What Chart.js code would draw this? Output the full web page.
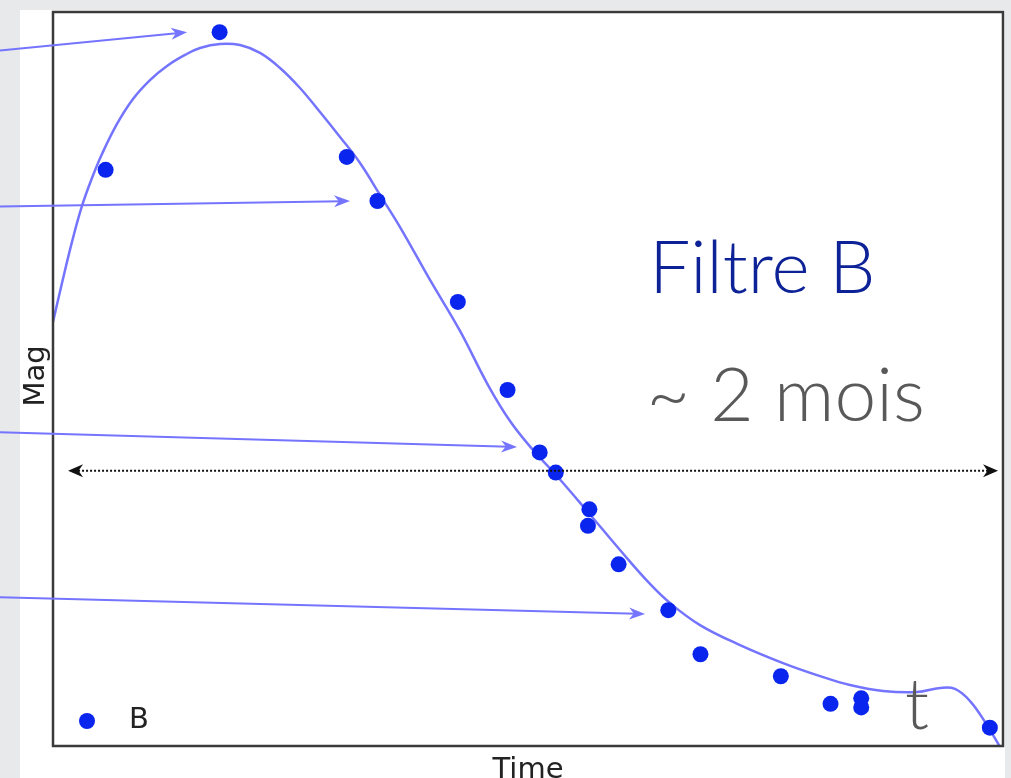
<!DOCTYPE html>
<html>
<head>
<meta charset="utf-8">
<script src="https://cdn.jsdelivr.net/npm/chart.js@4"></script>
<style>
  html, body { margin: 0; padding: 0; background: #e8e9eb; }
  canvas { display: block; }
</style>
</head>
<body>
<canvas id="lightCurve" width="1011" height="778"></canvas>
<script>
// observed B-band points (time in days, magnitude)
const timeDays = [3.6, 11.4, 20.1, 22.2, 27.7, 31.1, 33.3, 34.4, 36.7, 36.6, 38.7, 42.1, 44.3, 49.8, 53.2, 55.3, 55.3, 64.1];
const magB = [14.86, 14.11, 14.79, 15.03, 15.58, 16.06, 16.40, 16.51, 16.71, 16.80, 17.01, 17.26, 17.50, 17.62, 17.77, 17.74, 17.79, 17.90];

// fitted curve
const fitTime = [0, 0.616, 1.300, 1.984, 2.668, 3.352, 4.379, 5.474, 6.637, 7.800, 9.032, 10.058, 11.427, 12.795, 14.164, 15.532, 16.900, 18.269, 19.637, 21.006, 22.374, 23.743, 25.795, 27.848, 29.764, 31.269, 32.843, 34.417, 36.538, 38.796, 40.849, 42.217, 44.270, 47.007, 49.949, 52.480, 54.533, 56.791, 59.117, 60.691, 61.717, 62.744, 63.770, 64.795];
const fitMag = [15.689, 15.477, 15.253, 15.057, 14.905, 14.774, 14.610, 14.474, 14.371, 14.294, 14.234, 14.196, 14.174, 14.180, 14.223, 14.305, 14.414, 14.545, 14.681, 14.823, 14.997, 15.172, 15.460, 15.738, 16.033, 16.229, 16.387, 16.523, 16.719, 16.932, 17.117, 17.221, 17.341, 17.450, 17.548, 17.619, 17.668, 17.700, 17.706, 17.684, 17.689, 17.755, 17.869, 18.005];

// annotation arrows pointing at the data (start and tip, in data units)
const arrowStart = [[-3.63, 14.21], [-3.63, 15.06], [-3.63, 16.29], [-3.63, 17.19]];
const arrowTip = [[9.17, 14.11], [20.32, 15.03], [31.75, 16.37], [40.51, 17.28]];

// ~2 month span
const spanFrom = 1.03;
const spanTo = 64.66;
const spanMag = 16.50;

const seriesLabel = 'B';
const axisX = 'Time';
const axisY = 'Mag';
const noteFilter = 'Filtre B';
const noteSpan = '~ 2 mois';
const noteT = 't';

const pointColor = '#0a26ee';
const curveColor = '#7474ff';

function arrowHead(ctx, x, y, angle, len, half) {
    ctx.save();
    ctx.translate(x, y);
    ctx.rotate(angle);
    ctx.beginPath();
    ctx.moveTo(0, 0);
    ctx.lineTo(-len, -half);
    ctx.lineTo(-len * 0.7, 0);
    ctx.lineTo(-len, half);
    ctx.closePath();
    ctx.fill();
    ctx.restore();
}

const decorPlugin = {
    id: 'decor',
    beforeDraw(chart) {
        const ctx = chart.ctx;
        ctx.save();
        ctx.fillStyle = '#e8e9eb';
        ctx.fillRect(0, 0, chart.width, chart.height);
        ctx.fillStyle = '#ffffff';
        ctx.fillRect(20, 10, 985, chart.height - 10);
        ctx.restore();
    },
    afterDatasetsDraw(chart) {
        const ctx = chart.ctx;
        const xs = chart.scales.x;
        const ys = chart.scales.y;
        const area = chart.chartArea;
        ctx.save();

        // frame
        ctx.strokeStyle = '#3a3a3a';
        ctx.lineWidth = 2.5;
        ctx.strokeRect(area.left, area.top, area.right - area.left, area.bottom - area.top);

        // legend
        ctx.fillStyle = pointColor;
        ctx.beginPath();
        ctx.arc(area.left + 34, area.bottom - 25, 8, 0, Math.PI * 2);
        ctx.fill();
        ctx.fillStyle = '#222';
        ctx.font = '29px "DejaVu Sans"';
        ctx.textAlign = 'left';
        ctx.textBaseline = 'alphabetic';
        ctx.fillText(seriesLabel, area.left + 76, area.bottom - 18);

        // axis titles
        ctx.textAlign = 'center';
        ctx.fillText(axisX, (area.left + area.right) / 2, 778);
        ctx.save();
        ctx.translate(36, (area.top + area.bottom) / 2 - 3);
        ctx.rotate(-Math.PI / 2);
        ctx.textBaseline = 'middle';
        ctx.fillText(axisY, 0, 0);
        ctx.restore();

        // arrows
        ctx.strokeStyle = curveColor;
        ctx.fillStyle = curveColor;
        ctx.lineWidth = 2;
        for (let i = 0; i < arrowStart.length; i++) {
            const x0 = xs.getPixelForValue(arrowStart[i][0]);
            const y0 = ys.getPixelForValue(arrowStart[i][1]);
            const x1 = xs.getPixelForValue(arrowTip[i][0]);
            const y1 = ys.getPixelForValue(arrowTip[i][1]);
            const a = Math.atan2(y1 - y0, x1 - x0);
            ctx.beginPath();
            ctx.moveTo(x0, y0);
            ctx.lineTo(x1 - 8 * Math.cos(a), y1 - 8 * Math.sin(a));
            ctx.stroke();
            arrowHead(ctx, x1, y1, a, 16, 6);
        }

        // dotted span arrow
        const sx0 = xs.getPixelForValue(spanFrom);
        const sx1 = xs.getPixelForValue(spanTo);
        const sy = ys.getPixelForValue(spanMag);
        ctx.strokeStyle = '#111';
        ctx.fillStyle = '#111';
        ctx.lineWidth = 2;
        ctx.setLineDash([2, 2]);
        ctx.beginPath();
        ctx.moveTo(sx0 + 10, sy);
        ctx.lineTo(sx1 - 10, sy);
        ctx.stroke();
        ctx.setLineDash([]);
        arrowHead(ctx, sx1, sy, 0, 15, 6.5);
        arrowHead(ctx, sx0, sy, Math.PI, 15, 6.5);

        // slide notes
        ctx.textAlign = 'left';
        ctx.textBaseline = 'alphabetic';
        ctx.font = '300 73px Lato, "Open Sans", sans-serif';
        ctx.fillStyle = '#0c2296';
        ctx.fillText(noteFilter, xs.getPixelForValue(40.8), ys.getPixelForValue(15.53));
        ctx.fillStyle = '#595959';
        ctx.font = '300 75px Lato, "Open Sans", sans-serif';
        ctx.fillText(noteSpan, xs.getPixelForValue(40.6), ys.getPixelForValue(16.23));
        ctx.font = '300 70px Lato, "Open Sans", sans-serif';
        ctx.fillText(noteT, xs.getPixelForValue(58.3), ys.getPixelForValue(17.91));

        ctx.restore();
    }
};

const points = timeDays.map((t, i) => ({ x: t, y: magB[i] }));
const curve = fitTime.map((t, i) => ({ x: t, y: fitMag[i] }));

const ctx = document.getElementById('lightCurve').getContext('2d');
new Chart(ctx, {
    type: 'scatter',
    data: {
        datasets: [
            {
                label: seriesLabel,
                data: points,
                backgroundColor: pointColor,
                borderColor: pointColor,
                borderWidth: 0,
                pointRadius: 8,
                pointHoverRadius: 8
            },
            {
                type: 'line',
                label: 'fit',
                data: curve,
                borderColor: curveColor,
                borderWidth: 2.5,
                pointRadius: 0,
                fill: false,
                tension: 0.4
            }
        ]
    },
    options: {
        responsive: false,
        animation: false,
        layout: { padding: { left: 53, top: 12, right: 8, bottom: 32 } },
        plugins: {
            legend: { display: false },
            tooltip: { enabled: false }
        },
        scales: {
            x: { type: 'linear', min: 0, max: 65, display: false },
            y: { type: 'linear', min: 14, max: 18, reverse: true, display: false }
        }
    },
    plugins: [decorPlugin]
});
</script>
</body>
</html>
